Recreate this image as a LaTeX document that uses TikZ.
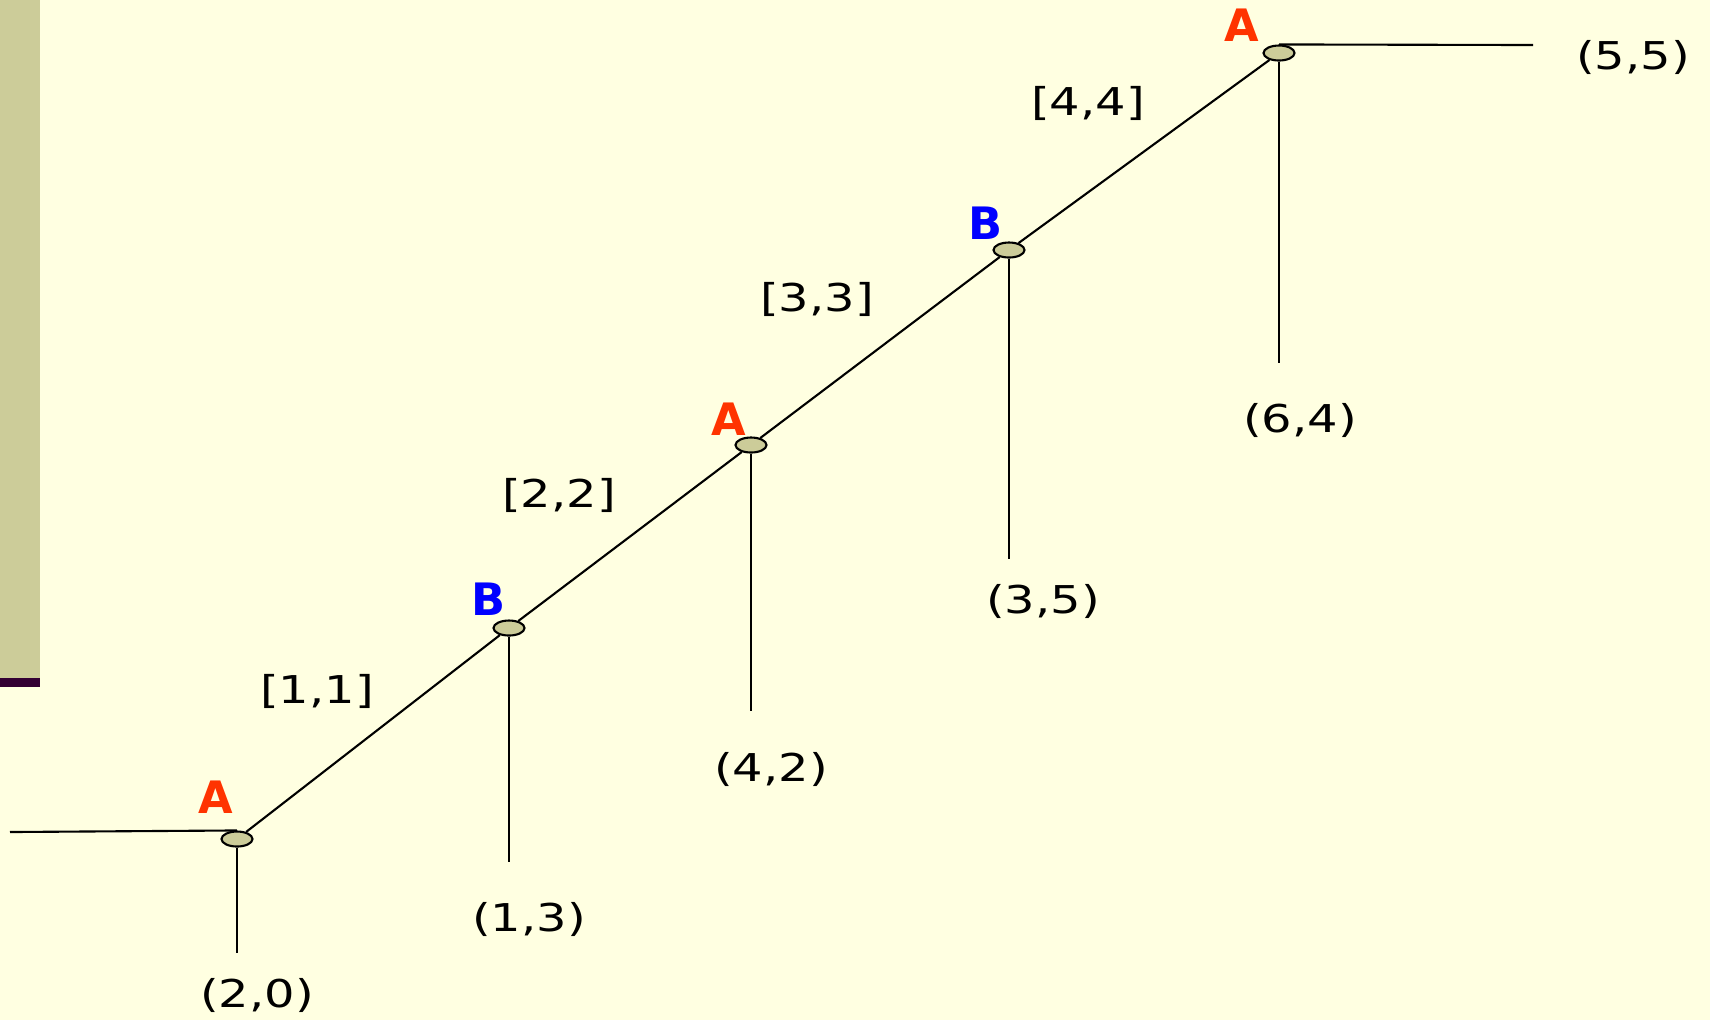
\documentclass[tikz,border=0pt]{standalone}
\usepackage{fontspec}
\setmainfont{DejaVu Sans}
\usetikzlibrary{shapes.geometric,positioning}
\definecolor{slideBg}{RGB}{255,255,225}
\definecolor{barOlive}{RGB}{204,204,153}
\definecolor{barPlum}{RGB}{51,0,51}
\definecolor{tagRed}{RGB}{255,51,0}
\definecolor{tagBlue}{RGB}{0,0,255}

\begin{document}
\begin{tikzpicture}[
  x=0.01cm, y=-0.01cm,
  every node/.style={font=\fontsize{10.9}{13}\selectfont, inner sep=0pt},
  joint/.style={ellipse, draw, fill=barOlive, line width=0.6pt,
                minimum width=3.1mm, minimum height=1.5mm},
  coordlbl/.style={xscale=1.25},
  tagA/.style={font=\fontsize{12.7}{15}\selectfont\bfseries, text=tagRed},
  tagB/.style={font=\fontsize{12.7}{15}\selectfont\bfseries, text=tagBlue},
  wire/.style={line width=0.6pt},
]

% Slide background and side bar
\useasboundingbox (0,0) rectangle (1710,1020);
\fill[slideBg] (0,0) rectangle (1710,1020);
\fill[barOlive] (0,0) rectangle (40,678);
\fill[barPlum] (0,678) rectangle (40,687);

% Junctions
\node[joint] (j1) at (237,839) {};
\node[joint] (j2) at (509,628) {};
\node[joint] (j3) at (751,445) {};
\node[joint] (j4) at (1009,250) {};
\node[joint] (j5) at (1279,53) {};

% Free ends
\coordinate (w0) at (10,832);
\coordinate (e5) at (1533,45);
\coordinate (d1) at (237,953);
\coordinate (d2) at (509,862);
\coordinate (d3) at (751,711);
\coordinate (d4) at (1009,559);
\coordinate (d5) at (1279,363);

% Chain
\draw[wire] (w0) -- (j1.north);
\draw[wire] (j1) -- (j2);
\draw[wire] (j2) -- (j3);
\draw[wire] (j3) -- (j4);
\draw[wire] (j4) -- (j5);
\draw[wire] (j5.north) -- (e5);

% Drops
\draw[wire] (j1) -- (d1);
\draw[wire] (j2) -- (d2);
\draw[wire] (j3) -- (d3);
\draw[wire] (j4) -- (d4);
\draw[wire] (j5) -- (d5);

% Junction tags
\node[tagA] (t1) at (216,797) {A};
\node[tagB] (t2) at (489,599) {B};
\node[tagA] (t3) at (729,419) {A};
\node[tagB] (t4) at (986,223) {B};
\node[tagA] (t5) at (1242,25) {A};

% Segment labels
\node[coordlbl] (s1) at (317,691) {[1,1]};
\node[coordlbl] (s2) at (559,495) {[2,2]};
\node[coordlbl] (s3) at (817,299) {[3,3]};
\node[coordlbl] (s4) at (1088,103) {[4,4]};

% End labels
\node[coordlbl] (p1) at (257,995) {(2,0)};
\node[coordlbl] (p2) at (529,919) {(1,3)};
\node[coordlbl] (p3) at (771,769) {(4,2)};
\node[coordlbl] (p4) at (1043,601) {(3,5)};
\node[coordlbl] (p5) at (1300,420) {(6,4)};
\node[coordlbl] (p6) at (1633,57) {(5,5)};

\end{tikzpicture}
\end{document}
